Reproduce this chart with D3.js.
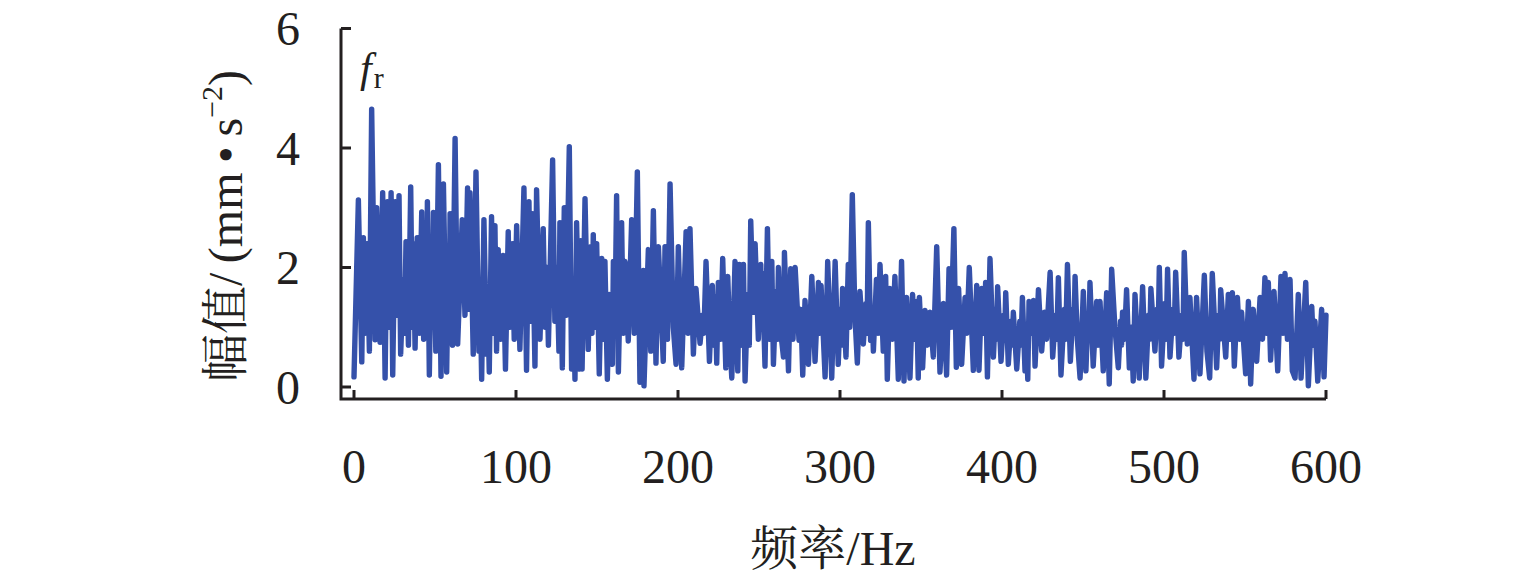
<!DOCTYPE html>
<html><head><meta charset="utf-8">
<script src="https://cdn.jsdelivr.net/npm/d3@7"></script>
<style>
html,body{margin:0;padding:0;background:#fff;}
svg{display:block;}
text{font-family:"Liberation Serif","Noto Serif CJK SC","Noto Sans CJK SC",serif;fill:#231f20;}
</style></head>
<body>
<svg id="chart" width="1535" height="585"></svg>
<script>
// ---- data ----
const xTicks = [0, 100, 200, 300, 400, 500, 600];
const yTicks = [0, 2, 4, 6];
const xTitle = "频率/Hz";

// spectrum, in segments: frequency (Hz) and amplitude (mm·s^-2)
const freqA = [0,2.7,4.8,5.8,6.8,8,9.5,10.9,13,14,16.1,17.7,19.2,20.6,21.7,22.9,23.9,25.5,26.6,27.8,28.8,30.5,31.2,32.1,33.6,35,36,36.7,37.7,39,40.3,41.8,43,44,44.8,45.3,46.5,47.8,48.3,49,50.5,52.1,53.7,55.2,57.2,58.3,58.8,59.3,60.8,62.4,64];
const ampA  = [0.17,3.13,0.42,2.5,0.9,2.4,0.6,4.65,0.79,3.0,0.75,3.25,0.15,3.1,1.0,3.25,0.2,3.1,1.2,3.2,0.55,1.8,0.9,2.43,0.7,3.35,1.0,2.4,0.65,2.5,0.9,2.93,0.8,2.7,1.0,3.1,0.2,2.5,1.0,2.92,0.6,3.72,0.18,3.4,0.25,2.2,0.9,2.9,0.7,4.16,0.72];

const freqB = [66.8,68.5,70.1,70.9,71.6,73.6,75.3,77.1,78,78.8,80.2,81.8,82.5,83.5,84.9,86,87,88,89,90.5,92,93.5,95.2,96.2,97.7,98.9,100.4,102.4,104.9,106.5,108,109,110,111.7,112.7,114.8,116.8,118,119,120,122.6,124,125.2,126.5,127.1,128.6,129.8,131,132.9,134.3,135.5,136.4,137.4,139.3,140,140.8,142.6];
const ampB  = [2.8,1.2,3.33,1.3,3.25,0.55,3.6,0.6,1.4,0.13,2.8,0.55,1.5,0.25,2.85,0.9,2.7,0.6,2.3,0.8,2.2,0.3,2.6,1.0,2.4,0.8,2.7,0.63,3.33,0.28,3.1,1.1,2.9,0.35,3.3,0.8,2.65,1.0,2.0,0.7,3.8,1.1,2.0,0.6,2.75,0.32,3.0,1.2,4.02,0.3,1.5,0.13,2.75,0.3,2.45,0.3,3.15];

const freqC = [144.6,146.1,146.9,147.7,148.7,149.8,151.4,152.9,153.9,154.9,156.4,157.6,159.5,160.1,161,162.1,163.2,165.2,166.2,167.3,169.3,171.4,173,174.9,176.5,178.6,179,181.7,183.2,184.8,186.4,187.9,190.9,192,193.5,195.1,197.1,198.8,200.2,202.3,205,206.2,207.4,209.5,211.1,213.6,215.2,216,217.3,219.4];
const ampC  = [0.63,2.35,0.9,2.55,1.0,2.4,0.22,2.15,0.8,2.1,0.13,1.55,0.38,2.1,0.9,3.2,0.25,2.75,0.9,2.1,0.77,2.8,0.9,3.6,0.08,1.95,0.02,2.3,0.6,2.95,0.4,2.35,0.43,2.35,0.8,3.4,1.0,0.38,2.35,0.32,2.6,0.9,2.65,0.55,1.65,0.73,1.2,0.9,2.1,0.43];

const freqD = [221.2,222.2,223,223.9,224.9,226.2,227.6,229.5,230.7,232,233.2,235.2,236.9,237.9,239.2,240.4,241.4,243,244,244.9,246.5,247.6,249.6,251.1,251.6,252.1,253.7,255.2,256.5,257.9,258.9,260.5,261.2,262,263.5,265.1,265.7,268.2,269.6,271,272.3,274.7,275.8,277,278.4,280.5,282.6,284.6,286.7,287.5,288.3,290.8,292.4,294.9,297];
const ampD  = [1.7,0.7,1.5,0.4,1.75,0.8,2.15,0.32,1.85,0.8,0.15,2.1,0.27,2.05,0.7,2.05,0.1,1.55,0.7,2.78,1.25,2.4,0.8,2.05,1.0,1.9,0.35,2.65,0.8,2.1,0.38,1.6,0.8,2.0,0.9,0.5,2.25,0.27,1.98,0.8,2.0,0.78,1.3,0.2,1.45,0.38,1.85,0.43,1.75,0.9,1.7,0.17,2.1,0.15,2.1];

const freqE = [298.9,300.2,300.8,301.6,303.7,305.1,306,307.6,309.2,310.7,312.3,314.4,316,316.7,317.5,318.9,319.8,320.6,322.5,323.5,324.7,326.7,328.2,329.2,330.8,332.3,333.9,336,338,339.5,341.1,343.2,344.8,346,347.3,348.3,349,351,352.5,354,355.5,357.6,359.7,361.7,363.8,365.8,367.3,368.5,370.3,371.8,373.2];
const ampE  = [0.38,1.3,0.7,1.65,0.5,2.05,1.0,3.22,1.2,0.4,1.6,0.72,1.4,0.9,2.75,0.78,1.3,0.6,1.8,0.9,2.05,0.6,1.85,0.13,1.65,0.8,1.85,0.13,2.1,0.1,1.5,0.15,1.55,0.8,1.43,0.15,1.5,0.32,1.28,0.7,1.25,0.5,2.35,0.25,1.4,0.2,1.98,1.0,2.65,0.33,1.65];

const freqF = [375.1,377.2,378.3,379.8,382.3,384.4,385.8,387.5,388.7,389.9,391,392.6,394.7,396,396.6,397.3,399.4,401,401.6,402.3,403.9,405.5,406.2,407,409.1,411,411.7,412.6,414.2,415.1,415.9,416.7,418,419.4,420.4,422.5,424.5,426.2,427.5,429.7,431.3,433,433.8,434.8,436.4,438.5,439.3,440.4,442.2,443.8,444.4,445.1,446.5,448.2,450.2];
const ampF  = [0.38,1.5,0.9,2.0,0.28,1.7,0.28,1.65,0.9,1.75,0.17,2.15,0.5,1.3,0.8,1.68,0.43,1.2,0.8,1.58,0.38,1.1,0.7,1.25,0.3,1.1,0.7,1.5,0.27,0.8,0.13,1.43,0.9,1.45,0.35,1.63,0.6,1.25,0.8,1.92,0.5,1.2,0.8,1.83,0.2,1.3,0.8,2.05,0.43,1.3,0.9,1.85,0.8,0.15,1.6];

const freqG = [451.8,453,453.6,454.3,456.3,458.4,459.4,460.5,462.5,464.6,466.2,467.7,469.7,471.8,473.2,473.8,474.4,475.6,476.9,478.6,479.8,481,482.1,484.7,486.8,488.8,490.5,491.2,491.9,494.4,495.7,496.4,497.1,498.5,500.5,501.3,502.2,503.7,505.5,506.3,507.2,509.2,511,511.7,512.5,514.4,516,518.5,520.1,522.2,524.9,526.5,528.2,529.8];
const ampG  = [0.27,1.2,0.8,1.75,0.35,1.43,0.7,1.43,0.27,1.58,0.05,1.97,1.0,0.32,1.1,0.7,1.25,0.8,1.63,0.32,1.0,0.1,1.55,0.15,1.68,0.15,1.2,0.8,1.65,0.6,1.3,0.9,2.0,0.35,1.4,0.8,1.97,0.5,1.3,0.9,1.92,0.5,1.2,0.8,2.25,0.72,1.5,0.13,1.5,0.22,1.87,0.6,0.15,1.9];

const freqH = [532.5,533.8,534.4,535,538.1,539.7,540.9,542.2,543.4,545.3,546.6,547.9,550.4,552.1,553.5,555.1,557.2,559.3,560.8,562.3,563.4,564.4,565.8,567.9,570.2,572.2,573.5,574.7,576.2,577.8,579.2,580.9,582.9,584.6,587.5,589.1,591.2,592.2,593.2,594.9,597.3,598.8,600];
const ampH  = [0.32,1.2,0.8,1.63,0.5,1.55,0.8,1.58,0.35,1.5,0.8,1.25,0.22,1.43,0.05,1.3,0.43,1.5,0.8,1.83,0.9,1.75,0.45,1.6,0.27,1.85,0.9,1.9,0.8,1.8,0.27,0.15,1.55,0.15,1.75,0.02,1.35,0.7,1.1,0.1,1.3,0.17,1.2];

// ---- assemble ----
const segs = {A:[freqA,ampA],B:[freqB,ampB],C:[freqC,ampC],D:[freqD,ampD],E:[freqE,ampE],F:[freqF,ampF],G:[freqG,ampG],H:[freqH,ampH]};
let data = [];
for (const k in segs) {
  const [f, a] = segs[k];
  if (f.length !== a.length) throw new Error("segment " + k + " length mismatch " + f.length + " vs " + a.length);
  f.forEach((v, i) => data.push({f: v, a: a[i]}));
}

// ---- chart ----
const svg = d3.select("#chart");
const x = d3.scaleLinear().domain([0, 600]).range([354, 1326]);
const y = d3.scaleLinear().domain([0, 6]).range([387, 28.5]);
const axisX0 = 341, axisY0 = 399;
const ink = "#231f20";

// line
svg.append("path")
  .datum(data)
  .attr("fill", "none")
  .attr("stroke", "#3551aa")
  .attr("stroke-width", 5.4)
  .attr("stroke-linejoin", "round")
  .attr("stroke-linecap", "round")
  .attr("d", d3.line().x(d => x(d.f)).y(d => y(d.a)));

// axes lines
svg.append("path")
  .attr("d", `M${axisX0},${y(6)}V${axisY0}H${x(600)}`)
  .attr("fill", "none").attr("stroke", ink).attr("stroke-width", 3);

// y ticks (inward)
const gy = svg.append("g");
yTicks.forEach(t => {
  gy.append("line").attr("x1", axisX0).attr("x2", axisX0 + 10)
    .attr("y1", y(t)).attr("y2", y(t)).attr("stroke", ink).attr("stroke-width", 3);
  gy.append("text").attr("x", 300).attr("y", y(t)).attr("dy", "0.35em")
    .attr("text-anchor", "end").attr("font-size", 48).text(t);
});

// x ticks (inward)
const gx = svg.append("g");
xTicks.forEach(t => {
  gx.append("line").attr("x1", x(t)).attr("x2", x(t))
    .attr("y1", axisY0).attr("y2", axisY0 - 9).attr("stroke", ink).attr("stroke-width", 3);
  gx.append("text").attr("x", x(t)).attr("y", 483)
    .attr("text-anchor", "middle").attr("font-size", 48).text(t);
});

// x title
svg.append("text").attr("x", 833).attr("y", 565).attr("text-anchor", "middle")
  .attr("font-size", 48).text(xTitle);

// y title
const yt = svg.append("text").attr("transform", "translate(242,226) rotate(-90)")
  .attr("text-anchor", "middle").attr("font-size", 48);
yt.append("tspan").text("幅值/\u2009(mm\u2009•\u2009s");
yt.append("tspan").attr("font-size", 30).attr("dy", -20).text("−2");
yt.append("tspan").attr("dy", 20).text(")");

// f_r label
const fl = svg.append("text").attr("x", 360).attr("y", 82);
fl.append("tspan").attr("font-size", 42).attr("font-style", "italic").text("f");
fl.append("tspan").attr("font-size", 30).attr("dy", 6).attr("dx", 2).text("r");
</script>
</body></html>
